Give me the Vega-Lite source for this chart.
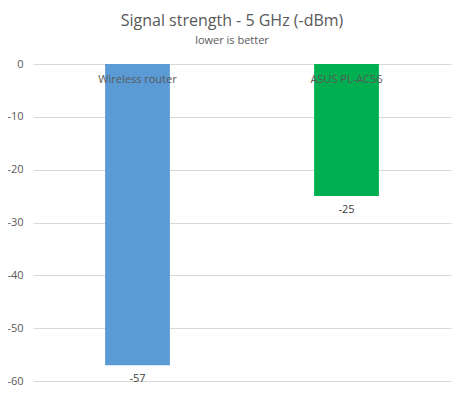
{
  "$schema": "https://vega.github.io/schema/vega-lite/v6.json",
  "autosize": "none",
  "width": 418,
  "height": 317,
  "padding": {"left": 33, "top": 64, "right": 13, "bottom": 16},
  "background": "white",
  "title": {
    "text": "Signal strength - 5 GHz (-dBm)",
    "subtitle": "lower is better",
    "anchor": "middle",
    "dx": -10,
    "offset": 12,
    "font": "Open Sans",
    "fontSize": 16,
    "fontWeight": "normal",
    "color": "#595959",
    "subtitleFont": "Open Sans",
    "subtitleFontSize": 11,
    "subtitleColor": "#595959",
    "subtitlePadding": 6
  },
  "data": {
    "values": [
      {"device": "Wireless router", "signal": -57},
      {"device": "ASUS PL-AC56", "signal": -25}
    ]
  },
  "encoding": {
    "x": {
      "field": "device",
      "type": "nominal",
      "sort": null,
      "axis": null,
      "scale": {"paddingInner": 0.69, "paddingOuter": 0.345}
    }
  },
  "layer": [
    {
      "mark": {"type": "bar"},
      "encoding": {
        "y": {
          "field": "signal",
          "type": "quantitative",
          "scale": {"domain": [-60, 0], "nice": false},
          "axis": {
            "title": null,
            "values": [0, -10, -20, -30, -40, -50, -60],
            "labelExpr": "'' + datum.value",
            "domain": false,
            "ticks": false,
            "labelPadding": 10,
            "labelFont": "Open Sans",
            "labelFontSize": 11,
            "labelColor": "#595959",
            "gridColor": "#d9d9d9",
            "gridWidth": 1
          }
        },
        "color": {
          "field": "device",
          "type": "nominal",
          "scale": {"domain": ["Wireless router", "ASUS PL-AC56"], "range": ["#5B9BD5", "#00B050"]},
          "legend": null
        }
      }
    },
    {
      "mark": {"type": "text", "baseline": "middle", "dy": 16, "font": "Open Sans", "fontSize": 11, "color": "#595959"},
      "encoding": {
        "y": {"datum": 0, "type": "quantitative"},
        "text": {"field": "device"}
      }
    },
    {
      "mark": {"type": "text", "baseline": "middle", "dy": 14, "font": "Open Sans", "fontSize": 11, "color": "#404040"},
      "encoding": {
        "y": {"field": "signal", "type": "quantitative"},
        "text": {"field": "signal", "type": "nominal"}
      }
    }
  ],
  "config": {"view": {"stroke": null}}
}
